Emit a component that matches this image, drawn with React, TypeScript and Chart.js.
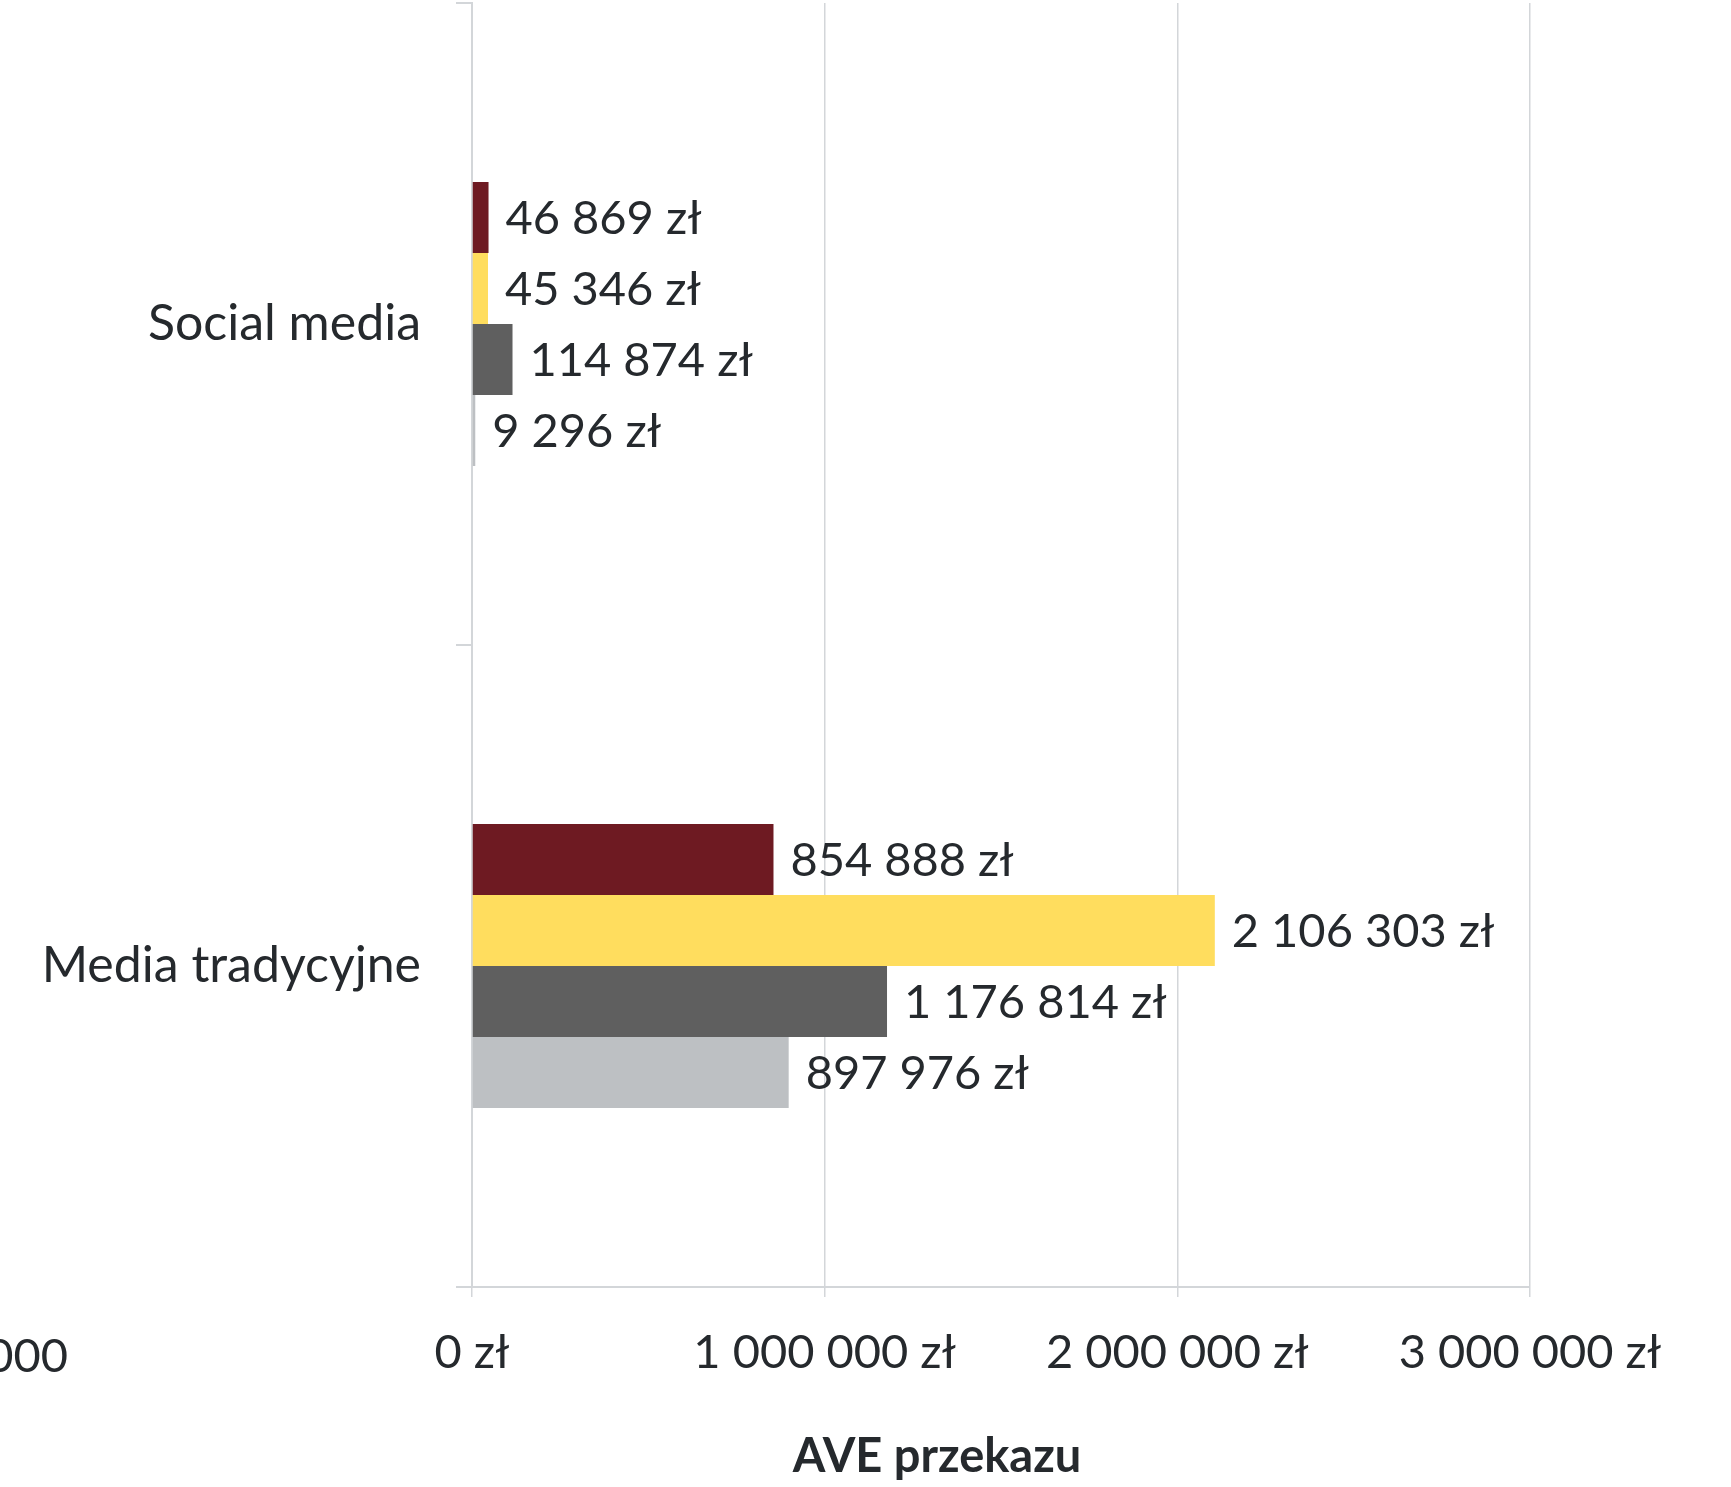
import React, { useEffect, useRef } from "react";
import { Chart, registerables } from "chart.js";

Chart.register(...registerables);

const categories = ["Social media", "Media tradycyjne"];
const seriesNames = ["Seria 1", "Seria 2", "Seria 3", "Seria 4"];
const series1 = [46869, 854888];
const series2 = [45346, 2106303];
const series3 = [114874, 1176814];
const series4 = [9296, 897976];
const seriesColors = ["#6E1A22", "#FFDD5E", "#5F5F5F", "#BDC0C3"];
const xMin = 0;
const xMax = 3000000;
const xStep = 1000000;
const axisTitle = "AVE przekazu";
const strayLabel = "-1 000 000";

const TEXT = "#25292D";
const GRID = "#D3D6D9";
const FONT = "Lato, 'Open Sans', sans-serif";

const fmt = (v: number) =>
  String(Math.round(v)).replace(/\B(?=(\d{3})+(?!\d))/g, " ") + " zł";

export default function App() {
  const ref = useRef<HTMLCanvasElement | null>(null);

  useEffect(() => {
    if (!ref.current) return;
    const labelsPlugin = {
      id: "extras",
      afterDatasetsDraw(chart: any) {
        const ctx = chart.ctx;
        ctx.save();
        ctx.font = `47px ${FONT}`;
        ctx.fillStyle = TEXT;
        ctx.textBaseline = "middle";
        ctx.textAlign = "left";
        chart.data.datasets.forEach((ds: any, i: number) => {
          const meta = chart.getDatasetMeta(i);
          meta.data.forEach((el: any, j: number) => {
            ctx.fillText(fmt(ds.data[j]), el.x + 17, el.y + 1);
          });
        });
        const area = chart.chartArea;
        // axis title
        ctx.font = `bold 47px ${FONT}`;
        ctx.textAlign = "center";
        ctx.fillText(axisTitle, (area.left + area.right) / 2 - 64, area.bottom + 170);
        // stray cropped tick label at the left edge
        ctx.font = `47px ${FONT}`;
        ctx.textAlign = "right";
        ctx.fillText(strayLabel, 68, area.bottom + 70);
        ctx.restore();
      },
    };

    const chart = new Chart(ref.current, {
      type: "bar",
      data: {
        labels: categories,
        datasets: [series1, series2, series3, series4].map((d, i) => ({
          label: seriesNames[i],
          data: d,
          backgroundColor: seriesColors[i],
          borderWidth: 0,
          categoryPercentage: 0.4424,
          barPercentage: 1,
        })),
      },
      options: {
        indexAxis: "y",
        responsive: false,
        animation: false,
        devicePixelRatio: 1,
        layout: { padding: { top: 3, right: 201, bottom: 0, left: 0 } },
        plugins: {
          legend: { display: false },
          tooltip: { enabled: false },
          title: { display: false },
        },
        scales: {
          x: {
            type: "linear",
            min: xMin,
            max: xMax,
            ticks: {
              stepSize: xStep,
              color: TEXT,
              font: { family: FONT, size: 47 },
              padding: 28,
              callback: (v: any) => fmt(Number(v)),
            },
            grid: {
              color: GRID,
              lineWidth: 1.5,
              drawOnChartArea: true,
              drawTicks: true,
              tickLength: 10,
            },
            border: { display: true, color: GRID, width: 2 },
            afterFit: (scale: any) => {
              scale.height = 200;
              scale.paddingLeft = 0;
              scale.paddingRight = 0;
            },
          },
          y: {
            type: "category",
            ticks: {
              color: TEXT,
              font: { family: FONT, size: 50 },
              padding: 35,
            },
            grid: {
              color: GRID,
              lineWidth: 2,
              drawOnChartArea: false,
              drawTicks: true,
              tickLength: 16,
              offset: true,
            },
            border: { display: true, color: GRID, width: 2 },
            afterFit: (scale: any) => {
              scale.width = 472;
              scale.paddingTop = 0;
              scale.paddingBottom = 0;
            },
          },
        },
      },
      plugins: [labelsPlugin],
    } as any);

    return () => chart.destroy();
  }, []);

  return (
    <div style={{ position: "absolute", left: 0, top: 0, width: 1731, height: 1487, background: "#fff" }}>
      <canvas ref={ref} width={1731} height={1487} style={{ display: "block" }} />
    </div>
  );
}
